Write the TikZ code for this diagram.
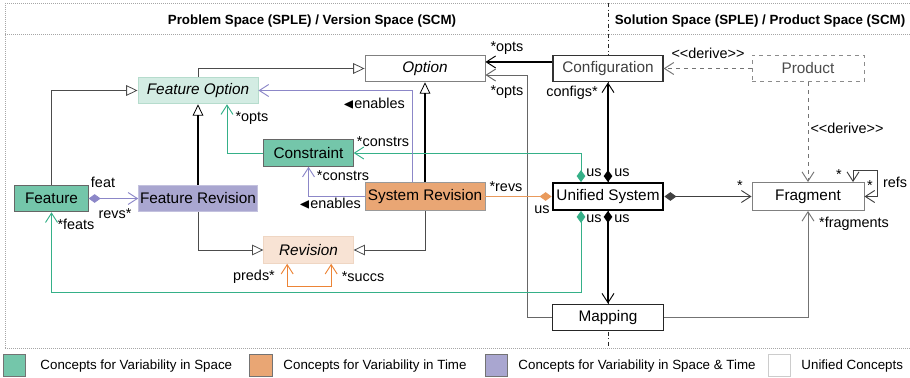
\documentclass[tikz,border=0pt]{standalone}
\usepackage{amssymb}
\usepackage{fontspec}
\setmainfont{Liberation Sans}
\usepackage{tikz}
\usetikzlibrary{arrows.meta}

\definecolor{spacefill}{HTML}{74C6AA}
\definecolor{spaceline}{HTML}{35B088}
\definecolor{timefill}{HTML}{E9A674}
\definecolor{timeline}{HTML}{EC8436}
\definecolor{timelink}{HTML}{E99A5C}
\definecolor{bothfill}{HTML}{A9A6D0}
\definecolor{bothline}{HTML}{8C87C8}
\definecolor{optfill}{HTML}{D3ECE3}
\definecolor{optdraw}{HTML}{B6DCCD}
\definecolor{revfill}{HTML}{F8E3D4}
\definecolor{revdraw}{HTML}{EFD6C3}

\newcommand{\clsfont}{\fontsize{11.5}{13}\selectfont}
\newcommand{\lblfont}{\fontsize{10.8}{12}\selectfont}
\newcommand{\legfont}{\fontsize{10}{12}\selectfont}
\newcommand{\enab}{$\blacktriangleleft$enables}
\newcommand{\derive}{<\kern0pt<derive>\kern0pt>}

\tikzset{
	cls/.style={draw=black!50,fill=white,minimum height=20pt,inner sep=1pt,font=\clsfont},
	abstr/.style={cls,font=\clsfont\itshape},
	lbl/.style={font=\lblfont,inner sep=0pt},
	gen/.style={-{Triangle[open,length=8.5pt,width=8pt,line width=0.6pt]}},
	nav/.style={-{Straight Barb[length=7pt,width=9pt,line width=0.7pt]}},
	navboth/.style={{Straight Barb[length=7pt,width=9pt,line width=0.7pt]}-{Straight Barb[length=7pt,width=9pt,line width=0.7pt]}},
	comp/.style={{Diamond[length=9pt,width=6.5pt]}-{Straight Barb[length=7pt,width=9pt,line width=0.7pt]}},
	heavy/.style={line width=1.5pt}
}

\begin{document}
\begin{tikzpicture}[x=0.75pt,y=-0.75pt,line width=0.7pt]
	\useasboundingbox (0,0) rectangle (910,378);
	% frame
	\draw[black!35,densely dotted,line width=0.5pt] (5,3) -- (910,3) (5,34) -- (910,34) (5,348) -- (910,348) (5,3) -- (5,348);
	\draw[black!85,dash dot,line width=0.5pt] (608,3) -- (608,348);
	\node[font=\bfseries\legfont] (hprob) at (312,21) {Problem Space (SPLE) / Version Space (SCM)};
	\node[font=\bfseries\legfont] (hsol) at (760,21) {Solution Space (SPLE) / Product Space (SCM)};

	\begin{scope}
		\node[abstr,minimum width=90pt] (opt) at (425,68.5) {Option};
		\node[cls,draw=black!80,line width=0.9pt,text=black!75,minimum width=82.5pt] (conf) at (608,68.5) {Configuration};
		\node[cls,dashed,draw=black!45,text=black!70,minimum width=84pt] (prod) at (808,68.5) {Product};
		\node[abstr,fill=optfill,draw=optdraw,minimum width=90pt] (fo) at (198,90.5) {Feature Option};
		\node[cls,fill=spacefill,draw=black!60,minimum width=67pt] (con) at (308.5,153) {Constraint};
		\node[cls,fill=spacefill,draw=black!60,minimum width=55pt] (feat) at (51.5,198.5) {Feature};
		\node[cls,fill=bothfill,draw=bothfill!70,minimum width=89pt] (fr) at (198,198.5) {Feature Revision};
		\node[cls,fill=timefill,draw=black!40,minimum width=90pt,minimum height=21pt] (sr) at (425,196.5) {System Revision};
		\node[cls,draw=black,line width=1.6pt,minimum width=83pt] (us) at (608,196.5) {Unified System};
		\node[cls,minimum width=84pt,minimum height=21pt] (frag) at (808,196.5) {Fragment};
		\node[abstr,fill=revfill,draw=revdraw,minimum width=67pt] (rev) at (308.5,250) {Revision};
		\node[cls,draw=black!85,line width=0.9pt,minimum width=83pt] (map) at (608,317.5) {Mapping};
	\end{scope}

	% generalisations
	\begin{scope}[color=black!70]
		\draw[gen] (fo.north) |- (opt.west);
		\draw[gen] (feat.north) |- (fo.west);
		\draw[gen] (fr.south) |- (rev.west);
		\draw[gen] (sr.south) |- (rev.east);
		\draw[gen,heavy,black] (fr.north) -- (fo.south);
		\draw[gen,heavy,black] (sr.north) -- (opt.south);
	\end{scope}

	% unified concepts
	\draw[nav,heavy,black] ([yshift=4.9pt]conf.west) -- ([yshift=4.9pt]opt.east);
	\draw[nav,black!60] (map.west) -- ++(-25,0) |- ([yshift=-4.9pt]opt.east);
	\draw[nav,black!55,dashed] (prod.west) -- (conf.east);
	\draw[nav,black!55,dashed] (prod.south) -- (frag.north);
	\draw[comp,heavy] (us.north) -- (conf.south);
	\draw[comp,heavy] (us.south) -- (map.north);
	\draw[comp,black!75] (us.east) -- (frag.west);
	\draw[nav,black!55] (map.east) -| (frag.south);
	\draw[navboth,black!75] ([xshift=33.75pt]frag.north) |- ++(24,-12) |- (frag.east);

	% space
	\begin{scope}[spaceline]
		\draw[nav] (con.west) -| ([xshift=21.75pt]fo.south);
		\draw[comp] ([xshift=-20.25pt]us.north) |- (con.east);
		\draw[comp] ([xshift=-20.25pt]us.south) -- ++(0,82) -| (feat.south);
	\end{scope}

	% space & time
	\begin{scope}[bothline]
		\draw[nav] (sr.west) -| (con.south);
		\draw[nav] ([xshift=-9.75pt]sr.north) |- (fo.east);
		\draw[comp] (feat.east) -- (fr.west);
	\end{scope}

	% time
	\draw[navboth,timeline] ([xshift=-16pt]rev.south) -- ++(0,23) -| ([xshift=17pt]rev.south);
	\draw[{Diamond[length=9pt,width=6.5pt]}-,timelink] (us.west) -- (sr.east);

	% role names
	\begin{scope}[every node/.style={lbl}]
		\node (lopta) at (507,48) {*opts};
		\node (loptb) at (507,92) {*opts};
		\node (lconf) at (572,93) {configs*};
		\node (ldera) at (708,53) {\derive};
		\node (lderb) at (847,128) {\derive};
		\node (loptc) at (252,118) {*opts};
		\node (lenaa) at (374,104) {\enab};
		\node (lcona) at (383,142) {*constrs};
		\node (lconb) at (343,176) {*constrs};
		\node (lenab) at (330,204) {\enab};
		\node (lfeat) at (103,182) {feat};
		\node (lrevs) at (115,214) {revs*};
		\node (lfeats) at (76,224) {*feats};
		\node (lpreds) at (254,277) {preds*};
		\node (lsuccs) at (363,277) {*succs};
		\node (lsrevs) at (506,187) {*revs};
		\node (lusa) at (542,210) {us};
		\node (lusb) at (594,173) {us};
		\node (lusc) at (622,173) {us};
		\node (lusd) at (594,219) {us};
		\node (luse) at (622,219) {us};
		\node (lfrag) at (740,186) {*};
		\node (lfrags) at (854,224) {*fragments};
		\node (lrefa) at (839,175) {*};
		\node (lrefb) at (870,186) {*};
		\node (lrefs) at (895,182) {refs};
	\end{scope}

	% legend
	\begin{scope}[every node/.style={minimum size=17pt,inner sep=0pt,draw=black!55}]
		\node[fill=spacefill] (kspace) at (14.5,365.5) {};
		\node[fill=timefill] (ktime) at (261,365.5) {};
		\node[fill=bothfill] (kboth) at (496.5,365.5) {};
		\node[fill=white,draw=black!20] (kuni) at (779.5,365.5) {};
	\end{scope}
	\begin{scope}[every node/.style={anchor=west,inner sep=0pt,font=\legfont}]
		\node (tspace) at (40,366) {Concepts for Variability in Space};
		\node (ttime) at (283,366) {Concepts for Variability in Time};
		\node (tboth) at (518,366) {Concepts for Variability in Space \& Time};
		\node (tuni) at (801,366) {Unified Concepts};
	\end{scope}
\end{tikzpicture}
\end{document}
